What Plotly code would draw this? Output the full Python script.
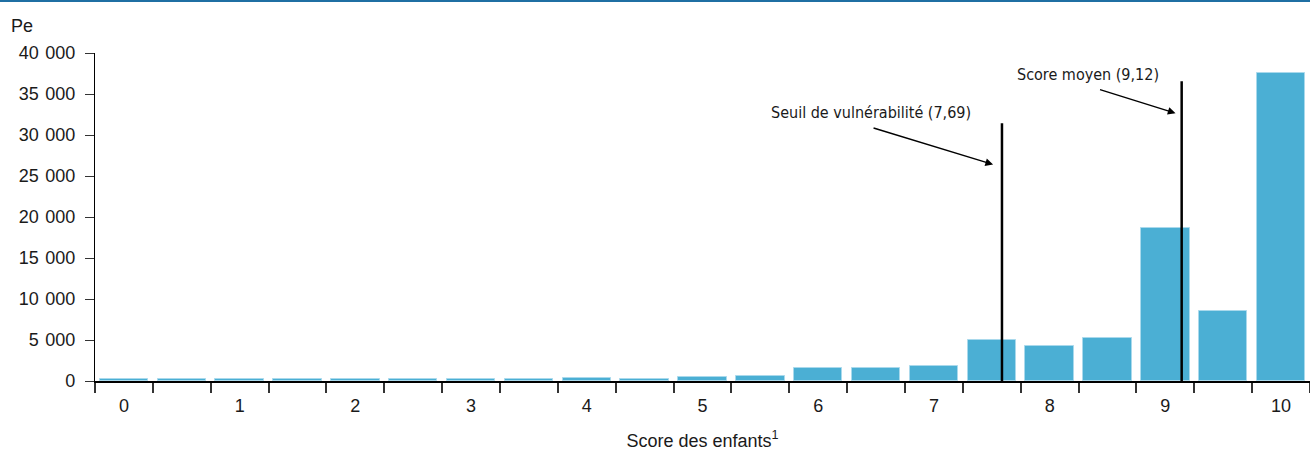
import plotly.graph_objects as go

# Data
scores = [0, 0.5, 1, 1.5, 2, 2.5, 3, 3.5, 4, 4.5, 5, 5.5, 6, 6.5, 7, 7.5, 8, 8.5, 9, 9.5, 10]
effectifs = [300, 300, 300, 300, 300, 300, 300, 300, 420, 280, 450, 580, 1610, 1560, 1770,
             5000, 4210, 5220, 18600, 8510, 37580]
x_tick_vals = [0, 1, 2, 3, 4, 5, 6, 7, 8, 9, 10]
x_tick_text = ["0", "1", "2", "3", "4", "5", "6", "7", "8", "9", "10"]
y_tick_vals = [0, 5000, 10000, 15000, 20000, 25000, 30000, 35000, 40000]
SP = " \u200a"
y_tick_text = ["0", "5" + SP + "000", "10" + SP + "000", "15" + SP + "000", "20" + SP + "000",
               "25" + SP + "000", "30" + SP + "000", "35" + SP + "000", "40" + SP + "000"]

# reference lines (position on the chart, top of line)
ref_labels = ["Seuil de vulnérabilité (7,69)", "Score moyen (9,12)"]
ref_x = [7.588, 9.141]
ref_top = [31440, 36560]
arrow_tip_x = [7.511, 9.088]
arrow_tip_y = [26400, 32660]
label_x = [7.34, 8.964]
label_y = [32740, 37380]

BAR = "#4bafd4"
TXT = "#1a1a1a"
MAIN_FONT = "Liberation Sans, Arial, sans-serif"
COND_FONT = "Liberation Sans Narrow, DejaVu Sans Condensed, Arial Narrow, sans-serif"

fig = go.Figure()
fig.add_trace(go.Bar(
    x=scores, y=effectifs, width=0.418,
    marker=dict(color=BAR, line=dict(color="#a9d9ec", width=1)),
    hoverinfo="x+y", showlegend=False,
))

for rx, rt in zip(ref_x, ref_top):
    fig.add_shape(type="line", xref="x", yref="y", x0=rx, x1=rx, y0=0, y1=rt,
                  line=dict(color="black", width=2.5), layer="above")

offsets = [(-121, -37), (-77, -24)]
for i in range(2):
    fig.add_annotation(x=arrow_tip_x[i], y=arrow_tip_y[i], xref="x", yref="y",
                       ax=offsets[i][0], ay=offsets[i][1], axref="pixel", ayref="pixel",
                       showarrow=True, arrowhead=2, arrowsize=1.1, arrowwidth=1.4,
                       arrowcolor="black", text="")
    fig.add_annotation(x=label_x[i], y=label_y[i], xref="x", yref="y",
                       text=ref_labels[i], showarrow=False, xanchor="right", yanchor="middle",
                       font=dict(family=COND_FONT, size=16, color=TXT))

# "Pe" label
fig.add_annotation(x=-86 / 1215, y=1 + 27 / 328, xref="paper", yref="paper",
                   text="Pe", showarrow=False, xanchor="left", yanchor="middle",
                   font=dict(family=MAIN_FONT, size=18, color=TXT))

# top blue rule
fig.add_shape(type="line", xref="paper", yref="paper", x0=-95 / 1215, x1=1,
              y0=1 + 52 / 328, y1=1 + 52 / 328, line=dict(color="#1f6fa3", width=2))

fig.update_layout(
    width=1310, height=451,
    margin=dict(l=95, r=0, t=53, b=70),
    plot_bgcolor="white", paper_bgcolor="white",
    font=dict(family=MAIN_FONT, size=18, color=TXT),
    bargap=0,
    xaxis=dict(
        range=[-0.25, 10.25], tickvals=x_tick_vals, ticktext=x_tick_text,
        ticks="", showgrid=False, zeroline=False,
        showline=True, linecolor="black", linewidth=1.5,
        ticklabelstandoff=8,
        minor=dict(ticks="outside", tick0=0.25, dtick=0.5, ticklen=10,
                   tickcolor="#333", tickwidth=1.5, showgrid=False),
        title=dict(text="Score des enfants<sup>1</sup>", standoff=20,
                   font=dict(family=MAIN_FONT, size=18, color=TXT)),
        tickfont=dict(family=MAIN_FONT, size=18, color=TXT),
    ),
    yaxis=dict(
        range=[0, 40000], tickvals=y_tick_vals, ticktext=y_tick_text,
        ticks="outside", ticklen=9, tickcolor="#333", tickwidth=1.2,
        showgrid=False, zeroline=False,
        showline=True, linecolor="black", linewidth=1.2,
        ticklabelstandoff=6,
        tickfont=dict(family=MAIN_FONT, size=18, color=TXT),
    ),
)

fig.write_html("out.html", config={"displayModeBar": False},
               post_script="document.body.style.margin='0';")
